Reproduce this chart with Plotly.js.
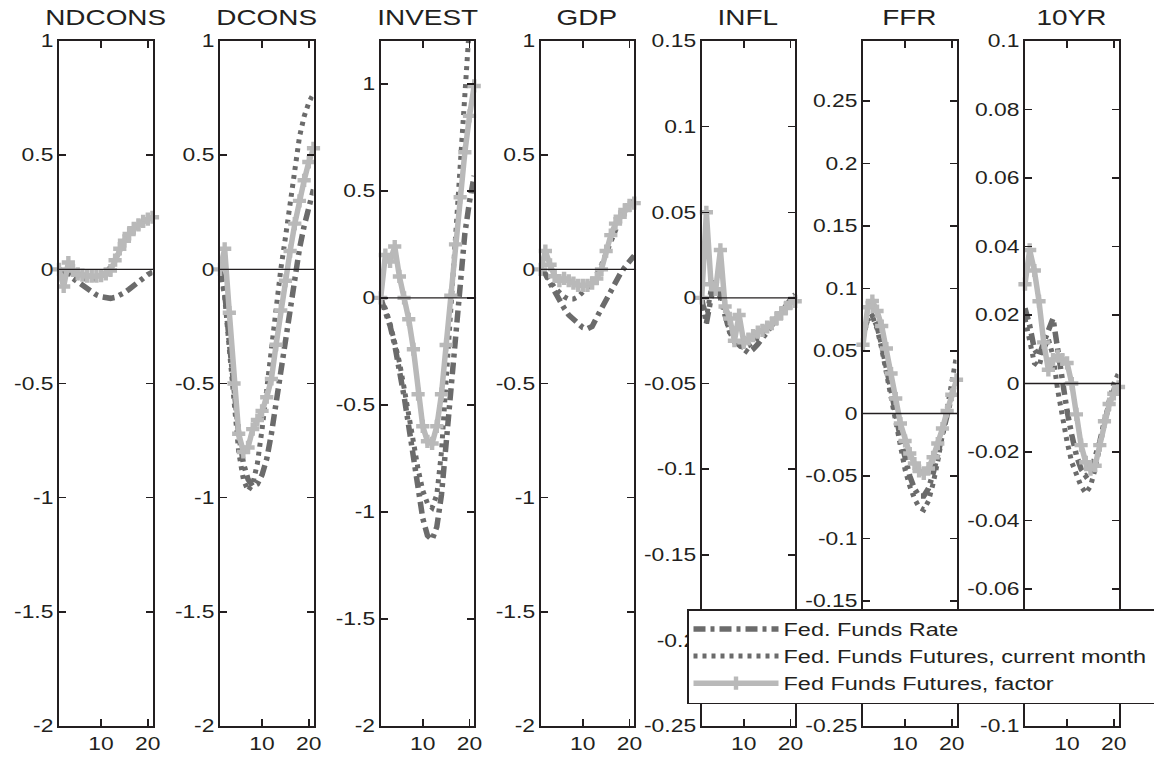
<!DOCTYPE html>
<html>
<head>
<meta charset="utf-8">
<script src="https://cdn.plot.ly/plotly-3.0.1.min.js"></script>
<style>html,body{margin:0;padding:0;background:#fff;}</style>
</head>
<body>
<div id="chart" style="width:1154px;height:757px;"></div>
<script>
// ---------------- DATA ----------------
const horizon = [1,2,3,4,5,6,7,8,9,10,11,12,13,14,15,16,17,18,19,20,21];
const panelNames = ["NDCONS","DCONS","INVEST","GDP","INFL","FFR","10YR"];
const seriesNames = ["Fed. Funds Rate","Fed. Funds Futures, current month","Fed Funds Futures, factor"];

const ndconsRate    = [0,-0.01,-0.025,-0.04,-0.055,-0.07,-0.085,-0.1,-0.112,-0.12,-0.126,-0.127,-0.123,-0.115,-0.102,-0.087,-0.07,-0.053,-0.037,-0.023,-0.012];
const ndconsCurrent = [0,-0.01,-0.02,-0.03,-0.035,-0.04,-0.045,-0.045,-0.04,-0.03,-0.015,0.01,0.045,0.085,0.12,0.15,0.175,0.195,0.21,0.22,0.23];
const ndconsFactor  = [0,-0.075,0.03,-0.005,-0.02,-0.025,-0.03,-0.03,-0.03,-0.028,-0.02,-0.005,0.04,0.09,0.125,0.155,0.18,0.195,0.21,0.22,0.228];

const dconsRate    = [0,-0.1,-0.32,-0.55,-0.72,-0.85,-0.92,-0.95,-0.94,-0.9,-0.83,-0.72,-0.58,-0.45,-0.33,-0.18,-0.04,0.09,0.19,0.28,0.35];
const dconsCurrent = [0,-0.12,-0.35,-0.6,-0.8,-0.92,-0.97,-0.94,-0.85,-0.7,-0.52,-0.33,-0.15,0.0,0.14,0.3,0.45,0.58,0.67,0.73,0.77];
const dconsFactor  = [0,0.09,-0.19,-0.5,-0.72,-0.8,-0.78,-0.7,-0.66,-0.62,-0.56,-0.48,-0.33,-0.18,-0.05,0.08,0.2,0.3,0.39,0.47,0.53];

const investRate    = [0,-0.06,-0.13,-0.22,-0.33,-0.46,-0.6,-0.75,-0.9,-1.03,-1.11,-1.13,-1.07,-0.92,-0.68,-0.42,-0.16,0.08,0.3,0.45,0.57];
const investCurrent = [0,-0.05,-0.12,-0.2,-0.3,-0.42,-0.55,-0.68,-0.8,-0.9,-0.96,-0.98,-0.92,-0.72,-0.38,0.0,0.3,0.63,0.96,1.28,1.55];
const investFactor  = [0,0.2,0.17,0.24,0.1,0.0,-0.1,-0.24,-0.45,-0.6,-0.67,-0.68,-0.6,-0.45,-0.22,0.01,0.25,0.47,0.68,0.85,0.99];

const gdpRate    = [0,-0.02,-0.06,-0.1,-0.14,-0.17,-0.2,-0.22,-0.24,-0.255,-0.26,-0.25,-0.21,-0.17,-0.13,-0.09,-0.05,-0.02,0.01,0.04,0.06];
const gdpCurrent = [0,-0.02,-0.05,-0.08,-0.1,-0.12,-0.13,-0.13,-0.12,-0.1,-0.08,-0.05,-0.02,0.02,0.07,0.13,0.18,0.23,0.27,0.29,0.3];
const gdpFactor  = [0,0.08,0.02,-0.03,-0.05,-0.04,-0.05,-0.06,-0.07,-0.07,-0.07,-0.06,-0.04,0.0,0.08,0.15,0.2,0.23,0.26,0.28,0.29];

const inflRate    = [0,-0.015,0.0,0.01,0.0,-0.01,-0.02,-0.025,-0.028,-0.03,-0.032,-0.03,-0.027,-0.024,-0.02,-0.016,-0.012,-0.008,-0.004,-0.001,0.002];
const inflCurrent = [0,-0.012,0.005,0.008,0.005,-0.01,-0.02,-0.026,-0.028,-0.029,-0.028,-0.026,-0.023,-0.02,-0.017,-0.014,-0.011,-0.008,-0.005,-0.002,0.0];
const inflFactor  = [0,0.05,0.008,0.005,0.028,-0.005,-0.012,-0.025,-0.01,-0.026,-0.024,-0.022,-0.02,-0.019,-0.017,-0.015,-0.012,-0.009,-0.006,-0.003,-0.002];

const ffrRate    = [0.065,0.075,0.078,0.07,0.055,0.038,0.02,0.0,-0.02,-0.036,-0.05,-0.06,-0.066,-0.066,-0.06,-0.048,-0.033,-0.017,0.0,0.016,0.03];
const ffrCurrent = [0.06,0.075,0.078,0.068,0.052,0.033,0.013,-0.008,-0.028,-0.045,-0.058,-0.068,-0.075,-0.077,-0.07,-0.056,-0.038,-0.018,0.003,0.025,0.046];
const ffrFactor  = [0.055,0.085,0.09,0.082,0.07,0.052,0.032,0.012,-0.008,-0.022,-0.032,-0.04,-0.046,-0.048,-0.044,-0.035,-0.024,-0.012,0.002,0.015,0.027];

const tenyrRate    = [0.022,0.017,0.01,0.008,0.012,0.016,0.019,0.01,0.0,-0.008,-0.015,-0.021,-0.025,-0.027,-0.026,-0.022,-0.017,-0.011,-0.006,-0.002,0.001];
const tenyrCurrent = [0.019,0.012,0.006,0.005,0.01,0.013,0.008,-0.002,-0.01,-0.017,-0.023,-0.027,-0.03,-0.032,-0.03,-0.025,-0.018,-0.011,-0.005,0.0,0.003];
const tenyrFactor  = [0.029,0.039,0.033,0.024,0.012,0.004,0.007,0.008,0.007,0.006,0.0,-0.009,-0.018,-0.023,-0.025,-0.024,-0.018,-0.011,-0.006,-0.003,-0.001];

// tick values / labels
const xTickVals = [10,20];
const xTickText = ["10","20"];
const realTickVals = [-2,-1.5,-1,-0.5,0,0.5,1];
const realTickText = ["-2","-1.5","-1","-0.5","0","0.5","1"];
const inflTickVals = [-0.25,-0.2,-0.15,-0.1,-0.05,0,0.05,0.1,0.15];
const inflTickText = ["-0.25","-0.2","-0.15","-0.1","-0.05","0","0.05","0.1","0.15"];
const ffrTickVals = [-0.25,-0.2,-0.15,-0.1,-0.05,0,0.05,0.1,0.15,0.2,0.25];
const ffrTickText = ["-0.25","-0.2","-0.15","-0.1","-0.05","0","0.05","0.1","0.15","0.2","0.25"];
const tenyrTickVals = [-0.1,-0.08,-0.06,-0.04,-0.02,0,0.02,0.04,0.06,0.08,0.1];
const tenyrTickText = ["-0.1","-0.08","-0.06","-0.04","-0.02","0","0.02","0.04","0.06","0.08","0.1"];

// ---------------- LAYOUT / STYLE ----------------
const W = 1154, H = 757;
const FONT = "'Liberation Sans', Arial, Helvetica, sans-serif";
const INK = '#231f20';
const DARK = '#6b6b6b';
const LIGHT = '#b9b9b9';

const panels = [
  {rate: ndconsRate, cur: ndconsCurrent, fac: ndconsFactor, range: [-2,1], tv: realTickVals, tt: realTickText},
  {rate: dconsRate, cur: dconsCurrent, fac: dconsFactor, range: [-2,1], tv: realTickVals, tt: realTickText},
  {rate: investRate, cur: investCurrent, fac: investFactor, range: [-2,1.2], tv: realTickVals, tt: realTickText},
  {rate: gdpRate, cur: gdpCurrent, fac: gdpFactor, range: [-2,1], tv: realTickVals, tt: realTickText},
  {rate: inflRate, cur: inflCurrent, fac: inflFactor, range: [-0.25,0.15], tv: inflTickVals, tt: inflTickText},
  {rate: ffrRate, cur: ffrCurrent, fac: ffrFactor, range: [-0.25,0.298], tv: ffrTickVals, tt: ffrTickText},
  {rate: tenyrRate, cur: tenyrCurrent, fac: tenyrFactor, range: [-0.1,0.1], tv: tenyrTickVals, tt: tenyrTickText}
];
const leftPx = [59, 220, 380.7, 540.7, 701.7, 863, 1025];
const widthPx = 93.5;
const topPx = 41, bottomPx = 726;

const traces = [];
const layout = {
  width: W, height: H,
  margin: {l:0, r:0, t:0, b:0, pad:0},
  paper_bgcolor: '#ffffff', plot_bgcolor: '#ffffff',
  font: {family: FONT, size: 18, color: INK},
  showlegend: true,
  legend: {
    x: 687 / W, y: 1 - 609 / H, xanchor: 'left', yanchor: 'top',
    bgcolor: '#ffffff', bordercolor: INK, borderwidth: 1.5,
    font: {family: FONT, size: 18.5, color: INK},
    itemwidth: 85, tracegroupgap: 0, traceorder: 'normal'
  },
  shapes: [], annotations: []
};

panels.forEach((p, i) => {
  const n = i + 1;
  const xa = 'x' + (n === 1 ? '' : n), ya = 'y' + (n === 1 ? '' : n);
  const xKey = 'xaxis' + (n === 1 ? '' : n), yKey = 'yaxis' + (n === 1 ? '' : n);
  const common = {
    showline: true, linecolor: INK, linewidth: 2, mirror: 'ticks',
    ticks: 'inside', ticklen: 7, tickwidth: 1.5, tickcolor: INK,
    showgrid: false, zeroline: false, fixedrange: true, automargin: false,
    tickfont: {family: FONT, size: 18, color: INK}
  };
  layout[xKey] = Object.assign({}, common, {
    domain: [leftPx[i] / W, (leftPx[i] + widthPx) / W], anchor: ya,
    range: [1, 21], tickmode: 'array', tickvals: xTickVals, ticktext: xTickText
  });
  layout[yKey] = Object.assign({}, common, {
    domain: [1 - bottomPx / H, 1 - topPx / H], anchor: xa,
    range: p.range, tickmode: 'array', tickvals: p.tv, ticktext: p.tt
  });
  traces.push({
    x: horizon, y: p.rate, xaxis: xa, yaxis: ya, type: 'scatter', mode: 'lines',
    name: seriesNames[0], legendgroup: 'rate', showlegend: i === 0,
    line: {color: DARK, width: 5.5, dash: '12px,5px,4px,5px'}, hoverinfo: 'skip'
  });
  traces.push({
    x: horizon, y: p.cur, xaxis: xa, yaxis: ya, type: 'scatter', mode: 'lines',
    name: seriesNames[1], legendgroup: 'cur', showlegend: i === 0,
    line: {color: DARK, width: 5, dash: '4px,5px'}, hoverinfo: 'skip'
  });
  traces.push({
    x: horizon, y: p.fac, xaxis: xa, yaxis: ya, type: 'scatter', mode: 'lines+markers',
    name: seriesNames[2], legendgroup: 'fac', showlegend: i === 0, cliponaxis: false,
    line: {color: LIGHT, width: 5.5}, marker: {symbol: 'cross', size: 11, color: LIGHT},
    hoverinfo: 'skip'
  });
  layout.shapes.push({
    type: 'line', xref: xa + ' domain', yref: ya, x0: 0, x1: 1.02, y0: 0, y1: 0,
    line: {color: INK, width: 1.3}, layer: 'above'
  });
  layout.annotations.push({
    text: panelNames[i], xref: xa + ' domain', yref: 'paper', x: 0.5, y: 1 - 17 / H,
    xanchor: 'center', yanchor: 'middle', showarrow: false,
    font: {family: FONT, size: 22, color: INK}
  });
});

Plotly.newPlot('chart', traces, layout, {displayModeBar: false, staticPlot: true, responsive: false}).then(gd => {
  // the original figure's lettering is horizontally stretched
  const S = 1.27;
  gd.querySelectorAll('svg text').forEach(t => {
    const x = parseFloat(t.getAttribute('x')) || 0;
    const tr = t.getAttribute('transform') || '';
    t.setAttribute('transform', (tr + ' translate(' + x + ',0) scale(' + S + ',1) translate(' + (-x) + ',0)').trim());
  });
  const bg = gd.querySelector('.legend rect.bg');
  if (bg) bg.setAttribute('width', 600);
  gd.querySelectorAll('.legend [clip-path]').forEach(e => e.removeAttribute('clip-path'));
});
</script>
</body>
</html>
